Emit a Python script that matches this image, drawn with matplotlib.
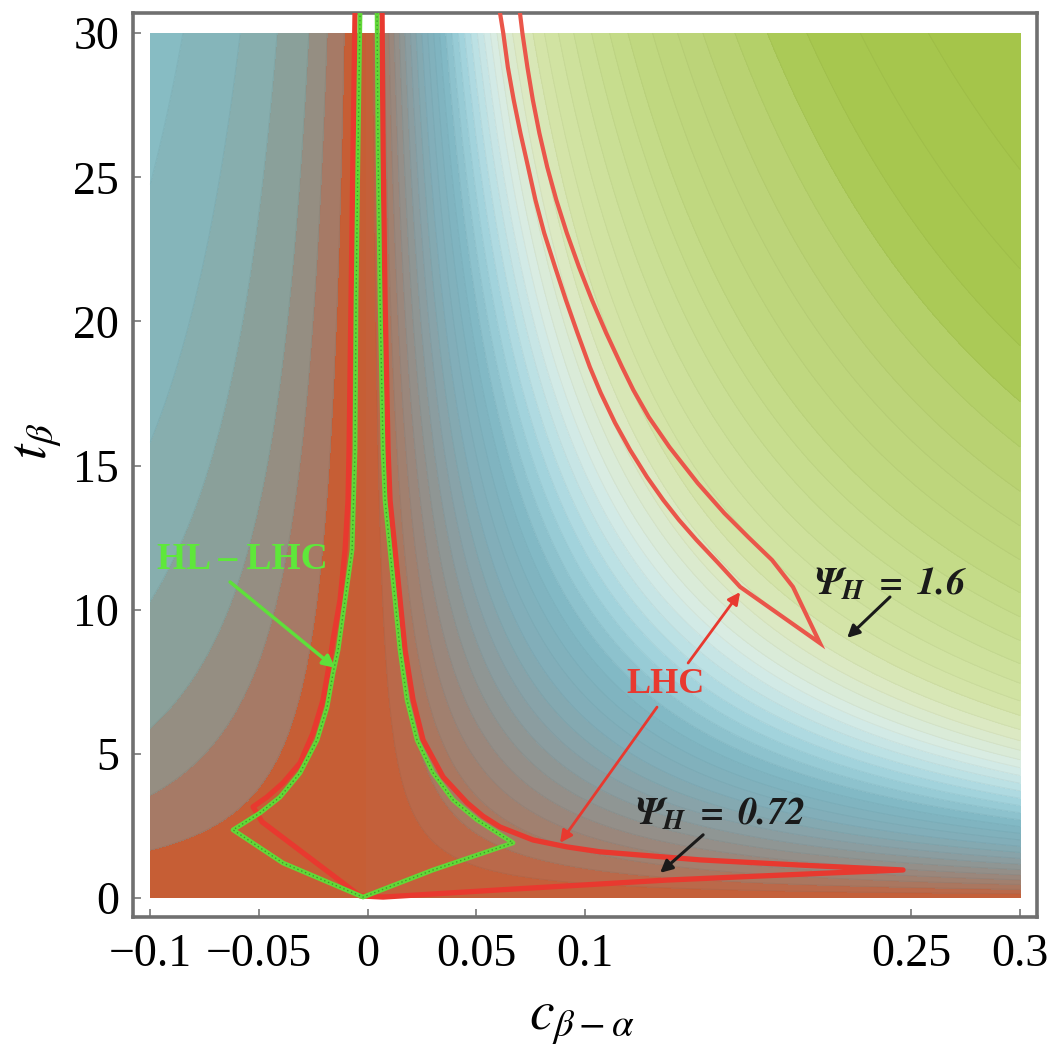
import numpy as np
import matplotlib
matplotlib.use("Agg")
import matplotlib.pyplot as plt
from matplotlib.colors import to_rgb

# ---------------- data ----------------
x_ticks = [-0.1, -0.05, 0, 0.05, 0.1, 0.25, 0.3]
x_ticklabels = ["\u22120.1", "\u22120.05", "0", "0.05", "0.1", "0.25", "0.3"]
y_ticks = [0, 5, 10, 15, 20, 25, 30]
y_ticklabels = ["0", "5", "10", "15", "20", "25", "30"]

# shaded background: extent of the coloured region
c_range = (-0.1, 0.3)
t_range = (0.0, 30.0)
c_soft = 0.05          # softening of the |c| dependence (left side shading variable)
c_exp_right = 0.85     # exponents / scale of the right side shading variable
t_exp_right = 0.75
k_right = 1.185

# left side (c<0) bands: levels of shading variable and band colours
left_levels = [0, 0.135, 0.29, 0.48, 0.84, 1.29, 2.02, 3.0]
left_colors = ["#c65e35", "#a67a66", "#958e82", "#8aa09a", "#87aeae", "#85b5ba", "#87bcc3"]

# right side (c>0) colour nodes and band levels
right_node_vals = [0, 0.10, 0.21, 0.36, 0.52, 0.68, 0.85, 1.02, 1.15, 1.32, 1.55, 1.75, 2.14,
                   2.6, 3.04, 3.5, 3.85, 5.7]
right_node_cols = ["#c65e35", "#c2623f", "#a97862", "#968b83", "#8a9ea2", "#82aeb8", "#7fb6c2",
                   "#9ccfd9", "#b8dfe4", "#d8ece6", "#dce9c4", "#d4e4a8", "#cadf94", "#c0d880",
                   "#bcd478", "#b4d068", "#a8c850", "#a4c448"]
right_levels = [0, 0.1, 0.17, 0.24, 0.3, 0.36, 0.42, 0.48, 0.54, 0.6, 0.66, 0.72, 0.78, 0.84,
                0.9, 0.96, 1.02, 1.08, 1.14, 1.2, 1.26, 1.32, 1.38, 1.45, 1.52, 1.6, 1.7, 1.8,
                1.92, 2.05, 2.2, 2.35, 2.5, 2.7, 2.9, 3.1, 3.35, 3.6, 3.9, 4.3, 4.8, 5.8]

# LHC allowed region (central funnel + low wedge), red
lhc_c = [-0.00575, -0.00667, -0.00759, -0.00851, -0.00897, -0.01034, -0.01264, -0.01586,
         -0.01724, -0.02046, -0.02506, -0.03103, -0.03885, -0.04621, -0.05264, -0.04851,
         -0.00345, 0.00713, 0.06092, 0.13770, 0.21402, 0.24621, 0.19885, 0.15287, 0.10690,
         0.09172, 0.07609, 0.06092, 0.05300, 0.04575, 0.03471, 0.02552, 0.02092, 0.01724,
         0.01494, 0.01264, 0.01034, 0.00943, 0.00805, 0.00713, 0.00667]
lhc_t = [30.75, 25.95, 20.74, 15.54, 13.80, 12.07, 10.34, 8.95, 8.26, 6.87, 5.72, 4.68, 3.99,
         3.50, 3.16, 2.64, 0.07, 0.03, 0.28, 0.62, 0.87, 0.97, 1.14, 1.32, 1.60, 1.77, 2.01,
         2.46, 2.84, 3.30, 4.20, 5.48, 6.87, 8.60, 10.34, 12.07, 13.80, 15.54, 20.74, 25.95,
         30.75]

# LHC band (Psi_H = 1.6), red
band_c = [0.0608, 0.0624, 0.0645, 0.0672, 0.0703, 0.0738, 0.0772, 0.0812, 0.0862, 0.0912,
          0.0965, 0.1022, 0.1072, 0.1138, 0.1207, 0.1285, 0.1360, 0.1432, 0.1512, 0.1612,
          0.1713, 0.2080, 0.1956, 0.1860, 0.1750, 0.1640, 0.1518, 0.1388, 0.1293, 0.1222,
          0.1170, 0.1097, 0.1032, 0.0972, 0.0916, 0.0868, 0.0826, 0.0790, 0.0760, 0.0735,
          0.0712, 0.0700]
band_t = [30.75, 30.00, 28.82, 27.68, 26.53, 25.36, 24.21, 23.07, 21.89, 20.74, 19.60, 18.42,
          17.52, 16.48, 15.54, 14.60, 13.80, 13.11, 12.42, 11.62, 10.79, 8.84, 10.79, 11.72,
          12.52, 13.35, 14.39, 15.64, 16.68, 17.62, 18.42, 19.60, 20.74, 21.89, 23.07, 24.21,
          25.36, 26.53, 27.68, 28.82, 30.00, 30.75]

# HL-LHC region, green
hl_c = [-0.00345, -0.00437, -0.00529, -0.00575, -0.00713, -0.01034, -0.01356, -0.01586,
        -0.01862, -0.02322, -0.03103, -0.04023, -0.04943, -0.06184, -0.03885, -0.00207,
        0.03011, 0.06690, 0.05034, 0.03931, 0.03011, 0.02276, 0.01816, 0.01494, 0.01264,
        0.01034, 0.00805, 0.00713, 0.00575, 0.00483, 0.00437]
hl_t = [30.75, 25.95, 20.74, 15.54, 12.07, 10.34, 8.60, 7.80, 6.62, 5.48, 4.34, 3.50, 2.95,
        2.36, 1.21, 0.03, 0.97, 1.91, 2.71, 3.40, 4.34, 5.48, 6.87, 8.60, 10.34, 12.07, 13.80,
        15.54, 20.74, 25.95, 30.75]

# annotation arrows (start, end) in data coordinates
hl_arrow = ((-0.0632, 10.96), (-0.0149, 7.98))
lhc_arrow_up = ((0.1474, 8.15), (0.1713, 10.61))
lhc_arrow_down = ((0.1331, 6.62), (0.0885, 1.91))
psi16_arrow = ((0.2402, 10.44), (0.2205, 9.02))
psi072_arrow = ((0.1543, 2.19), (0.1345, 0.87))

# ---------------- figure ----------------
plt.rcParams["mathtext.fontset"] = "stix"
plt.rcParams["font.family"] = ["Liberation Serif", "DejaVu Serif"]

fig = plt.figure(figsize=(10.48, 10.64), dpi=100)
ax = fig.add_axes([0.127, 0.1382, 0.8625, 0.8496])

cgrid = np.linspace(c_range[0], c_range[1], 1201)
tgrid = np.linspace(t_range[0], t_range[1], 901)
C, T = np.meshgrid(cgrid, tgrid)
A = np.abs(C)

# left half
HL = np.where(C <= 0.0005, A * T * np.sqrt(A / (A + c_soft)), np.nan)
ax.contourf(C, T, HL, levels=left_levels, colors=left_colors, antialiased=False)
ax.contour(C, T, HL, levels=left_levels[1:-1], colors="k", alpha=0.04, linewidths=0.8)

# right half
rgb_nodes = np.array([to_rgb(col) for col in right_node_cols])
mids = 0.5 * (np.array(right_levels[:-1]) + np.array(right_levels[1:]))
band_cols = [tuple(np.interp(m, right_node_vals, rgb_nodes[:, k]) for k in range(3)) for m in mids]
HR = np.where(C >= -0.0005, k_right * A ** c_exp_right * T ** t_exp_right, np.nan)
ax.contourf(C, T, HR, levels=right_levels, colors=band_cols, antialiased=False)
ax.contour(C, T, HR, levels=right_levels[1:-1], colors="k", alpha=0.035, linewidths=0.8)

red = "#e8392f"
ax.plot(lhc_c, lhc_t, color=red, lw=3.8, solid_joinstyle="round", solid_capstyle="round", zorder=4)
ax.plot(band_c, band_t, color="#ea564a", lw=3.0, solid_joinstyle="miter", zorder=4)
ax.plot(hl_c, hl_t, color="#62d838", lw=3.4, zorder=5)
ax.plot(hl_c, hl_t, color="#3c9c2a", lw=1.0, linestyle=(0, (1, 2)), zorder=6)

def arrow(se, color, lw=2.0):
    ax.annotate("", xy=se[1], xytext=se[0],
                arrowprops=dict(arrowstyle="-|>", color=color, lw=lw, mutation_scale=18,
                                shrinkA=0, shrinkB=0), zorder=7)

arrow(hl_arrow, "#5ee03a", 2.5)
arrow(lhc_arrow_up, "#e8392f", 2.0)
arrow(lhc_arrow_down, "#e8392f", 2.0)
arrow(psi16_arrow, "#1a1a1a", 2.2)
arrow(psi072_arrow, "#1a1a1a", 2.2)

ax.text(-0.0575, 11.75, "HL \u2013 LHC", color="#5ee83a", fontsize=27, fontweight="bold",
        ha="center", va="center", zorder=8)
ax.text(0.1368, 7.39, "LHC", color="#e8392f", fontsize=26, fontweight="bold",
        ha="center", va="center", zorder=8)
ax.text(0.2407, 10.86, r"$\mathbfit{\Psi_{H}\ =\ 1.6}$", color="#1a1a1a", fontsize=28,
        ha="center", va="center", zorder=8)
ax.text(0.1625, 2.88, r"$\mathbfit{\Psi_{H}\ =\ 0.72}$", color="#1a1a1a", fontsize=28,
        ha="center", va="center", zorder=8)

ax.set_xlim(-0.1078, 0.3078)
ax.set_ylim(-0.66, 30.70)

ax.set_xticks(x_ticks)
ax.set_xticklabels(x_ticklabels)
ax.set_yticks(y_ticks)
ax.set_yticklabels(y_ticklabels)
ax.tick_params(axis="both", direction="in", length=6, width=1.2, color="#777777",
               labelsize=33, top=False, right=False)
ax.tick_params(axis="x", pad=12)
ax.tick_params(axis="y", pad=10)
for sp in ax.spines.values():
    sp.set_color("#707070")
    sp.set_linewidth(2.6)

fig.text(0.555, 0.040, r"$c_{\beta-\alpha}$", fontsize=40, ha="center", va="center")
fig.text(0.036, 0.585, r"$t_{\beta}$", fontsize=40, ha="center", va="center", rotation=90)

fig.savefig("out.png", dpi=100, facecolor="white")
